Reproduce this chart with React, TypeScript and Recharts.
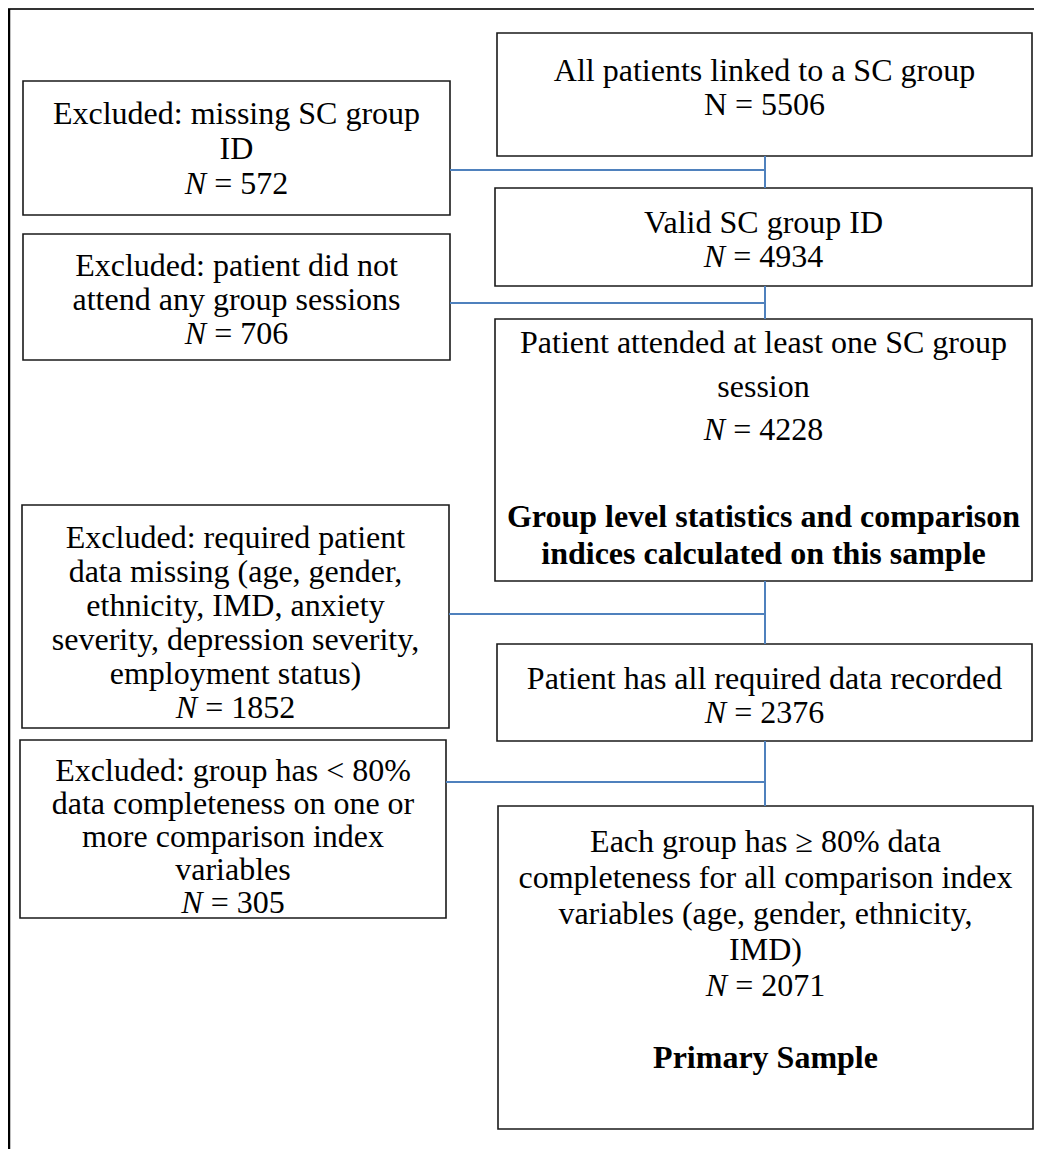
import { ComposedChart, ReferenceArea, ReferenceLine, Scatter, XAxis, YAxis } from "recharts";

// text of each step in the flow, top to bottom, right column then exclusions
const stepTitles = [
	["All patients linked to a SC group"],
	["Excluded: missing SC group", "ID"],
	["Valid SC group ID"],
	["Excluded: patient did not", "attend any group sessions"],
	["Patient attended at least one SC group", "session"],
	[
		"Excluded: required patient",
		"data missing (age, gender,",
		"ethnicity, IMD, anxiety",
		"severity, depression severity,",
		"employment status)",
	],
	["Patient has all required data recorded"],
	["Excluded: group has < 80%", "data completeness on one or", "more comparison index", "variables"],
	[
		"Each group has \u2265 80% data",
		"completeness for all comparison index",
		"variables (age, gender, ethnicity,",
		"IMD)",
	],
];
const stepCounts = [5506, 572, 4934, 706, 4228, 1852, 2376, 305, 2071];
const stepNotes = [
	[],
	[],
	[],
	[],
	["Group level statistics and comparison", "indices calculated on this sample"],
	[],
	[],
	[],
	["Primary Sample"],
];

// layout (page pixels)
const boxFrames = [
	{ x1: 497, x2: 1032, y1: 33, y2: 156 },
	{ x1: 23, x2: 450, y1: 81, y2: 215 },
	{ x1: 495, x2: 1032, y1: 188, y2: 286 },
	{ x1: 23, x2: 450, y1: 234, y2: 360 },
	{ x1: 495, x2: 1032, y1: 319, y2: 581 },
	{ x1: 22, x2: 449, y1: 505, y2: 728 },
	{ x1: 497, x2: 1032, y1: 644, y2: 741 },
	{ x1: 20, x2: 446, y1: 740, y2: 918 },
	{ x1: 498, x2: 1033, y1: 806, y2: 1129 },
];
const rowCenters = [
	[70, 104],
	[113, 148, 183],
	[222, 256],
	[265, 299, 333],
	[342, 386, 429, 516, 553],
	[537, 571, 605, 639, 673, 707],
	[678, 712],
	[770, 803, 836, 869, 902],
	[841, 877, 913, 949, 985, 1057],
];
const italicN = [false, true, true, true, true, true, true, true, true];

const connectorX = 765;
const connectorRows = [
	{ from: 1, up: 0, down: 2, y: 170 },
	{ from: 3, up: 2, down: 4, y: 303 },
	{ from: 5, up: 4, down: 6, y: 614 },
	{ from: 7, up: 6, down: 8, y: 782 },
];

const FONT = "'Liberation Serif', 'Times New Roman', serif";

const textRows = boxFrames.flatMap((box, i) => {
	const cx = (box.x1 + box.x2) / 2;
	const rows = [
		...stepTitles[i].map((t) => ({ kind: "plain", text: t, n: 0 })),
		{ kind: "count", text: "", n: stepCounts[i] },
		...stepNotes[i].map((t) => ({ kind: "bold", text: t, n: 0 })),
	];
	return rows.map((r, j) => ({ ...r, x: cx, y: rowCenters[i][j], italic: italicN[i] }));
});

function TextRow(props: any) {
	const { cx, cy } = props;
	const p = props.payload ?? props;
	if (cx == null || cy == null) return null;
	return (
		<text
			x={cx}
			y={cy + 11}
			textAnchor="middle"
			fontFamily={FONT}
			fontSize={32}
			fill="#000"
			fontWeight={p.kind === "bold" ? "bold" : "normal"}
		>
			{p.kind === "count" ? (
				<>
					<tspan fontStyle={p.italic ? "italic" : "normal"}>N</tspan>
					<tspan>{` = ${p.n}`}</tspan>
				</>
			) : (
				p.text
			)}
		</text>
	);
}

export default function App() {
	return (
		<ComposedChart
			width={1034}
			height={1141}
			data={textRows}
			margin={{ top: 0, right: 0, left: 0, bottom: 0 }}
		>
			<XAxis type="number" dataKey="x" domain={[8, 1042]} allowDataOverflow hide />
			<YAxis type="number" dataKey="y" domain={[8, 1149]} allowDataOverflow reversed hide />

			{/* page frame */}
			<ReferenceLine
				segment={[
					{ x: 8, y: 9 },
					{ x: 1038, y: 9 },
				]}
				stroke="#333"
				strokeWidth={2}
			/>
			<ReferenceLine
				segment={[
					{ x: 9, y: 9 },
					{ x: 9, y: 1149 },
				]}
				stroke="#000"
				strokeWidth={2.5}
			/>

			{connectorRows.map((c, i) => (
				<ReferenceLine
					key={`h${i}`}
					segment={[
						{ x: boxFrames[c.from].x2, y: c.y },
						{ x: connectorX, y: c.y },
					]}
					stroke="#4f81bd"
					strokeWidth={2}
				/>
			))}
			{connectorRows.map((c, i) => (
				<ReferenceLine
					key={`v${i}`}
					segment={[
						{ x: connectorX, y: boxFrames[c.up].y2 },
						{ x: connectorX, y: boxFrames[c.down].y1 },
					]}
					stroke="#4f81bd"
					strokeWidth={2}
				/>
			))}

			{boxFrames.map((b, i) => (
				<ReferenceArea
					key={`b${i}`}
					x1={b.x1}
					x2={b.x2}
					y1={b.y1}
					y2={b.y2}
					fill="none"
					stroke="#1a1a1a"
					strokeWidth={1.6}
				/>
			))}

			<Scatter dataKey="y" data={textRows} shape={<TextRow />} isAnimationActive={false} />
		</ComposedChart>
	);
}
